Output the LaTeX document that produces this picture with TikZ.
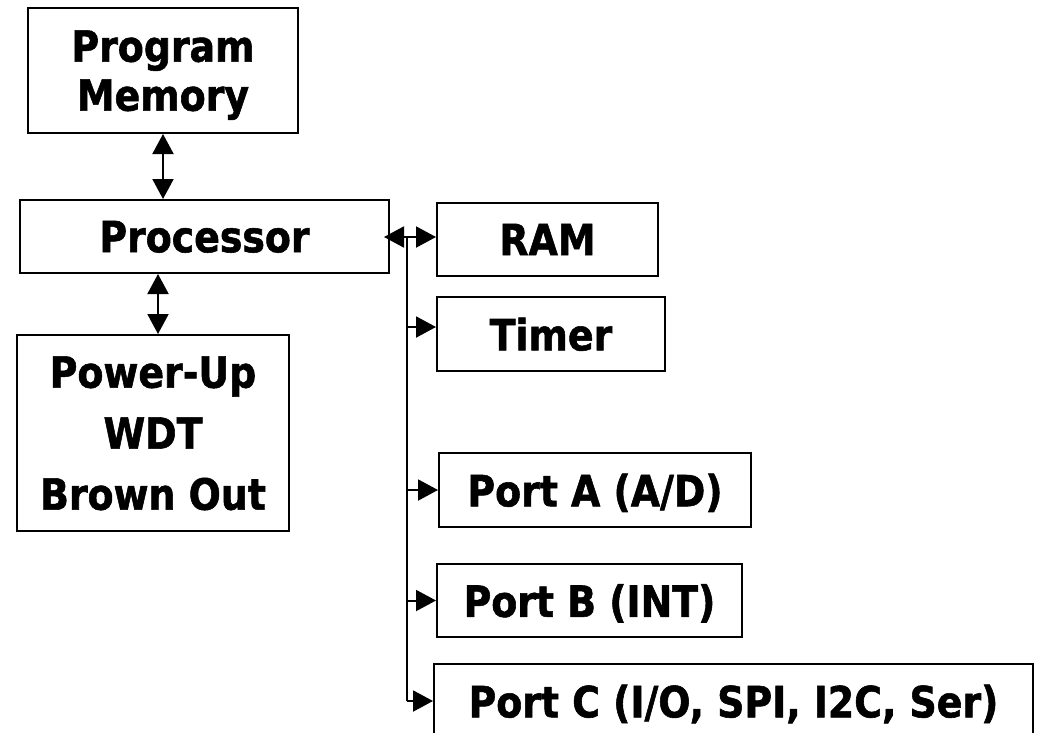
\documentclass[tikz,border=0pt]{standalone}
\usepackage{fontspec}
\usetikzlibrary{arrows.meta}
\newfontfamily\blockfont[FakeStretch=0.88,BoldFeatures={FakeBold=1.3}]{DejaVu Sans}
\begin{document}
\begin{tikzpicture}[x=1pt,y=-1pt,
  blk/.style={draw,line width=2pt,rectangle,inner sep=0pt,align=center,text depth=0pt,
    font=\blockfont\bfseries\fontsize{43}{49}\selectfont},
  wire/.style={line width=2pt},
  arr/.style={wire,-{Triangle[length=20pt,width=21pt]}},
  biarr/.style={wire,{Triangle[length=20pt,width=21pt]}-{Triangle[length=20pt,width=21pt]}}]
\useasboundingbox (0,0) rectangle (1040,732);
\clip (0,0) rectangle (1040,732);

% left column
\node[blk,minimum width=270pt,minimum height=125pt] (pm) at (163,70.5) {Program\\Memory};
\node[blk,minimum width=369pt,minimum height=73pt] (proc) at (204.5,236.5) {Processor};
\node[blk,minimum width=272pt,minimum height=196pt,
      font=\blockfont\bfseries\fontsize{43}{61}\selectfont] (pwr) at (153,433)
      {Power-Up\\WDT\\Brown Out};

% peripherals
\node[blk,minimum width=221pt,minimum height=73pt] (ram) at (547.5,239.5) {RAM};
\node[blk,minimum width=228pt,minimum height=74pt] (timer) at (551,334) {Timer};
\node[blk,minimum width=312pt,minimum height=74pt] (porta) at (595,490) {Port A (A/D)};
\node[blk,minimum width=305pt,minimum height=73pt] (portb) at (589.5,600.5) {Port B (INT)};
\node[blk,minimum width=599pt,minimum height=74pt] (portc) at (733.5,701) {Port C (I/O, SPI, I2C, Ser)};

% vertical links
\draw[biarr] (pm.south) -- (proc.north -| pm.south);
\draw[biarr] ([xshift=5pt]proc.south -| pwr.north) -- ([xshift=5pt]pwr.north);

% bus
\coordinate (busTop) at (407,237);
\coordinate (busBot) at (407,701);
\draw[biarr] ([xshift=-6pt]proc.east |- busTop) -- (ram.west |- busTop);
\draw[wire] (busTop) -- (busBot);
\draw[arr] ([yshift=7pt]busTop |- timer.west) -- ([yshift=7pt]timer.west);
\draw[arr] (busTop |- porta.west) -- (porta.west);
\draw[arr] (busTop |- portb.west) -- (portb.west);
\draw[arr] (busBot) -- (portc.west |- busBot);
\end{tikzpicture}
\end{document}
